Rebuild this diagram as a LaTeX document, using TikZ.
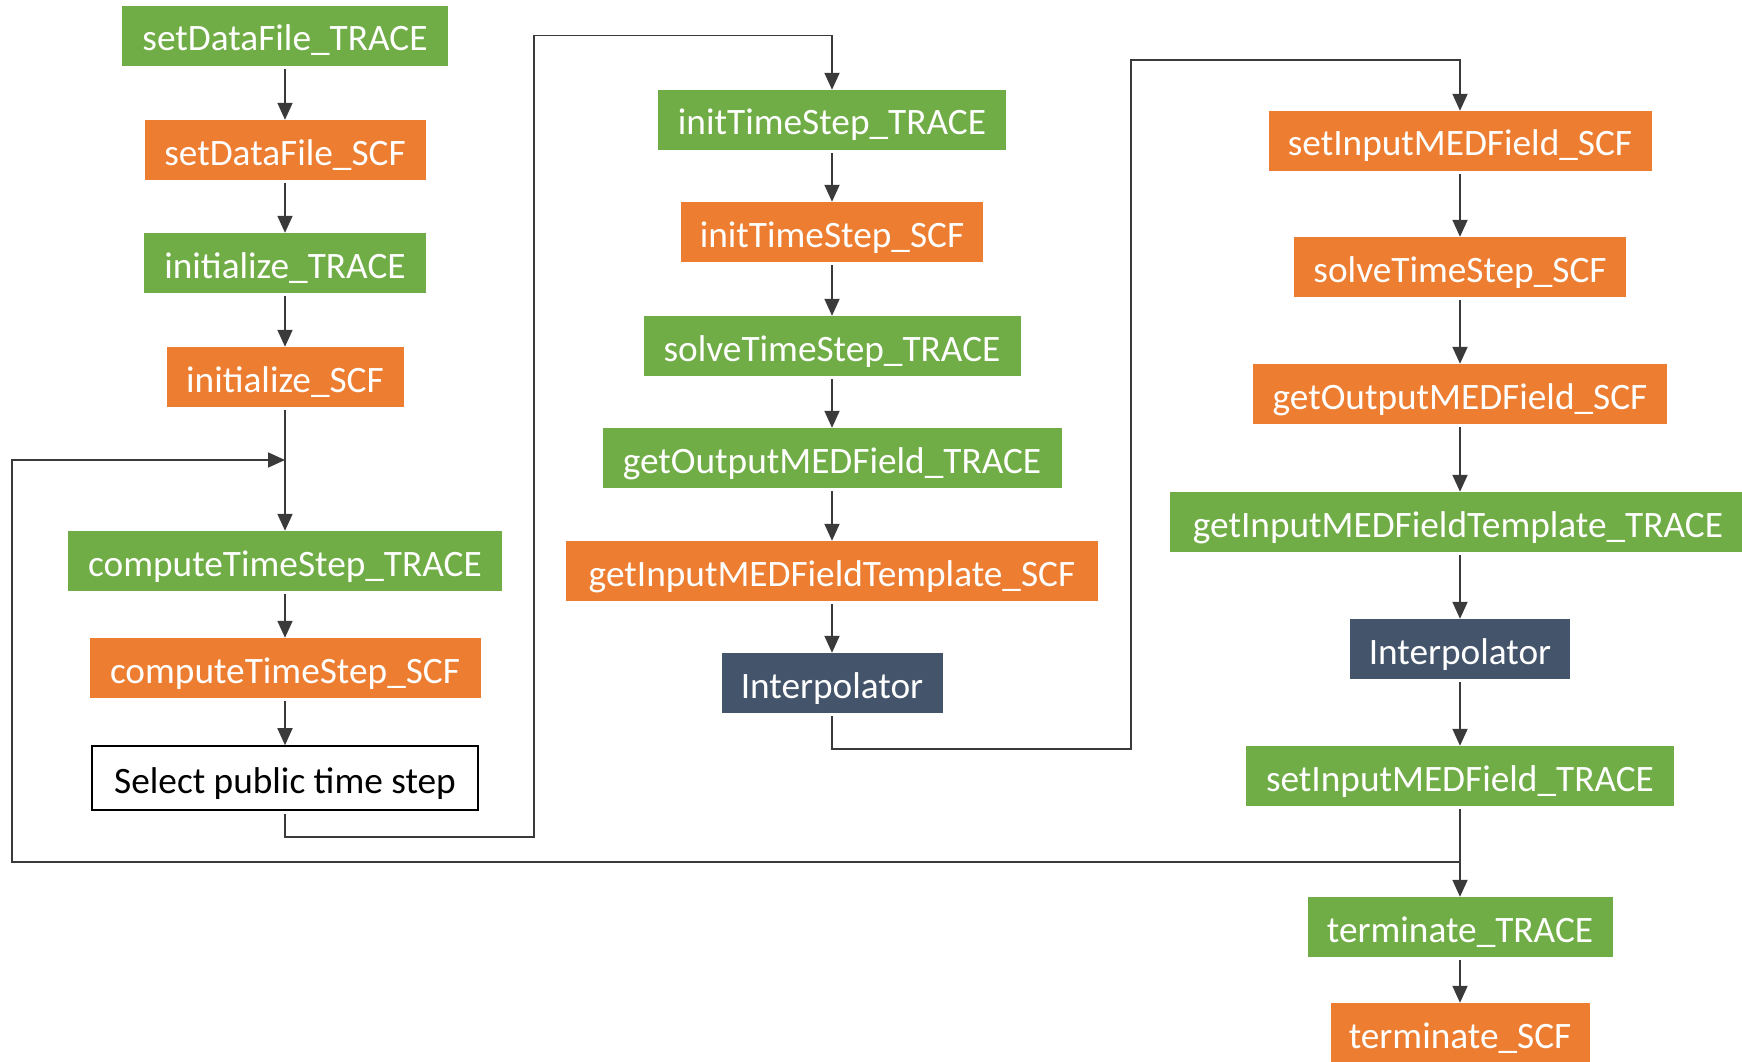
\documentclass[tikz,border=0pt]{standalone}
\usepackage{fontspec}
\setmainfont{Carlito}
\usetikzlibrary{arrows.meta}
\definecolor{trgreen}{HTML}{70AD47}
\definecolor{scforange}{HTML}{ED7D31}
\definecolor{interpblue}{HTML}{44546A}
\definecolor{wire}{HTML}{3A3A3A}

\begin{document}
\begin{tikzpicture}[x=1pt,y=-1pt,
  box/.style={rectangle, inner sep=0pt, minimum height=60pt, text=white,
    font=\fontsize{37.3}{44}\selectfont, text height=30pt, text depth=0pt},
  tracebox/.style={box, fill=trgreen},
  scfbox/.style={box, fill=scforange},
  interpbox/.style={box, fill=interpblue},
  plainbox/.style={box, fill=white, draw=black, line width=1.6pt, text=black, minimum height=64pt},
  flow/.style={draw=wire, line width=1.8pt, shorten <=3pt, -{Triangle[width=15pt,length=17pt]}},
  wireline/.style={draw=wire, line width=1.8pt}]

\useasboundingbox (0,0) rectangle (1742,1062);

% first column: set-up and time step computation
\node[tracebox, minimum width=326pt] (sdfT) at (285,36) {setDataFile\_TRACE};
\node[scfbox,   minimum width=281pt] (sdfS) at (285,150) {setDataFile\_SCF};
\node[tracebox, minimum width=282pt] (iniT) at (285,263) {initialize\_TRACE};
\node[scfbox,   minimum width=237pt] (iniS) at (285,377) {initialize\_SCF};
\node[tracebox, minimum width=434pt] (ctsT) at (285,561) {computeTimeStep\_TRACE};
\node[scfbox,   minimum width=391pt] (ctsS) at (285,668) {computeTimeStep\_SCF};
\node[plainbox, minimum width=386pt] (sel)  at (285,778) {Select public time step};

% second column: TRACE time step, field transfer to SCF
\node[tracebox,  minimum width=348pt] (itsT)  at (832,120) {initTimeStep\_TRACE};
\node[scfbox,    minimum width=302pt] (itsS)  at (832,232) {initTimeStep\_SCF};
\node[tracebox,  minimum width=377pt] (stsT)  at (832,346) {solveTimeStep\_TRACE};
\node[tracebox,  minimum width=459pt] (gomT)  at (832,458) {getOutputMEDField\_TRACE};
\node[scfbox,    minimum width=532pt] (gimtS) at (832,571) {getInputMEDFieldTemplate\_SCF};
\node[interpbox, minimum width=221pt] (ipA)   at (832,683) {Interpolator};

% third column: SCF solve, field transfer back to TRACE, termination
\node[scfbox,    minimum width=383pt] (simS)  at (1460,141) {setInputMEDField\_SCF};
\node[scfbox,    minimum width=332pt] (stsS)  at (1460,267) {solveTimeStep\_SCF};
\node[scfbox,    minimum width=414pt] (gomS)  at (1460,394) {getOutputMEDField\_SCF};
\node[tracebox,  minimum width=576pt] (gimtT) at (1458,522) {getInputMEDFieldTemplate\_TRACE};
\node[interpbox, minimum width=220pt] (ipB)   at (1460,649) {Interpolator};
\node[tracebox,  minimum width=428pt] (simT)  at (1460,776) {setInputMEDField\_TRACE};
\node[tracebox,  minimum width=305pt] (termT) at (1460,927) {terminate\_TRACE};
\node[scfbox,    minimum width=259pt] (termS) at (1460,1033) {terminate\_SCF};

% routing points
\coordinate (jA) at (534,837);
\coordinate (jB) at (534,35.5);
\coordinate (jC) at (1131,749);
\coordinate (jD) at (1131,60);
\coordinate (jE) at (12,862);
\coordinate (jF) at (12,460);
\coordinate (merge) at (285,460);

% straight arrows
\draw[flow] (sdfT.south) -- (sdfS.north);
\draw[flow] (sdfS.south) -- (iniT.north);
\draw[flow] (iniT.south) -- (iniS.north);
\draw[flow] (iniS.south) -- (ctsT.north);
\draw[flow] (ctsT.south) -- (ctsS.north);
\draw[flow] (ctsS.south) -- (sel.north);

\draw[flow] (itsT.south) -- (itsS.north);
\draw[flow] (itsS.south) -- (stsT.north);
\draw[flow] (stsT.south) -- (gomT.north);
\draw[flow] (gomT.south) -- (gimtS.north);
\draw[flow] (gimtS.south) -- (ipA.north);

\draw[flow] (simS.south) -- (stsS.north);
\draw[flow] (stsS.south) -- (gomS.north);
\draw[flow] (gomS.south) -- (gomS.south |- gimtT.north);
\draw[flow] (ipB.north |- gimtT.south) -- (ipB.north);
\draw[flow] (ipB.south) -- (simT.north);
\draw[flow] (simT.south) -- (termT.north);
\draw[flow] (termT.south) -- (termS.north);

% routed connectors between columns
\draw[flow] (sel.south) |- (jA) -- (jB) -| (itsT.north);
\draw[flow] (ipA.south) |- (jC) -- (jD) -| (simS.north);

% loop back to the time step computation
\draw[flow, shorten <=0pt] (simT.south |- jE) -- (jE) -- (jF) -- (merge);
\end{tikzpicture}
\end{document}
